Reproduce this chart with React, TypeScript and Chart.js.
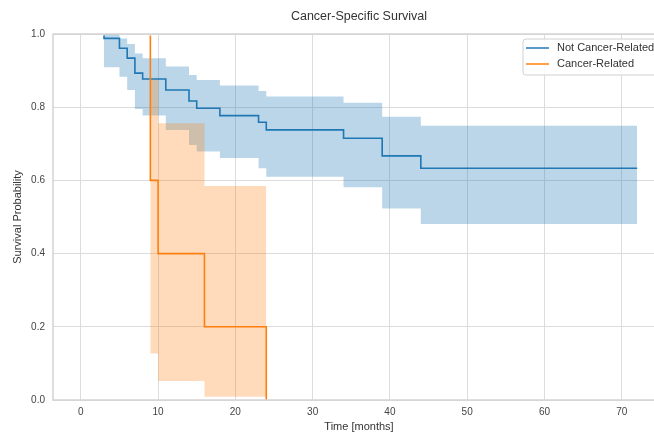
import React, { useEffect, useRef } from "react";
import { Chart, registerables } from "chart.js";

Chart.register(...registerables);

const chartTitle = "Cancer-Specific Survival";
const xAxisTitle = "Time [months]";
const yAxisTitle = "Survival Probability";
const seriesNames = ["Not Cancer-Related", "Cancer-Related"];

const blueTimes = [0, 3, 5, 6, 7, 8, 11, 14, 15, 18, 23, 24, 34, 39, 44, 72];
const blueSurvival = [1.0, 0.988, 0.961, 0.934, 0.893, 0.877, 0.847, 0.817, 0.797, 0.777, 0.759, 0.738, 0.715, 0.667, 0.633, 0.633];
const blueUpper = [1.0, 1.0, 0.988, 0.973, 0.947, 0.934, 0.911, 0.888, 0.874, 0.859, 0.844, 0.829, 0.812, 0.774, 0.749, 0.749];
const blueLower = [1.0, 0.909, 0.883, 0.847, 0.795, 0.777, 0.738, 0.697, 0.679, 0.661, 0.633, 0.61, 0.581, 0.523, 0.481, 0.481];

const orangeTimes = [0, 9, 10, 16, 24];
const orangeSurvival = [1.0, 0.6, 0.4, 0.2, 0.0];
const orangeUpper = [1.0, 0.875, 0.756, 0.585, 0.585];
const orangeLower = [1.0, 0.127, 0.052, 0.009, 0.009];

const xTicks = [0, 10, 20, 30, 40, 50, 60, 70];
const yTicks = [0, 0.2, 0.4, 0.6, 0.8, 1.0];

const BLUE = "#1f77b4";
const ORANGE = "#ff7f0e";
const FONT = "'Liberation Sans', Arial, sans-serif";

const pts = (xs: number[], ys: number[]) => xs.map((x, i) => ({ x, y: ys[i] }));

const overlayPlugin = {
  id: "overlay",
  afterDatasetsDraw(chart: any) {
    const { ctx, chartArea } = chart;
    const { left, right, top, bottom } = chartArea;
    ctx.save();
    ctx.strokeStyle = "#d4d4d4";
    ctx.lineWidth = 1.5;
    ctx.strokeRect(left, top, right - left, bottom - top);
    ctx.restore();
  },
  afterDraw(chart: any) {
    const { ctx, chartArea } = chart;
    const { left, right, top, bottom } = chartArea;
    const cx = (left + right) / 2;
    ctx.save();
    ctx.fillStyle = "#333";
    ctx.textAlign = "center";
    ctx.textBaseline = "middle";
    ctx.font = `12.5px ${FONT}`;
    ctx.fillText(chartTitle, cx, 17);
    ctx.font = `11px ${FONT}`;
    ctx.fillText(xAxisTitle, cx, bottom + 27);
    ctx.save();
    ctx.translate(18, (top + bottom) / 2);
    ctx.rotate(-Math.PI / 2);
    ctx.fillText(yAxisTitle, 0, 0);
    ctx.restore();
    const bx = 523, by = 39, bw = 160, bh = 36, r = 3;
    ctx.beginPath();
    ctx.moveTo(bx + r, by);
    ctx.lineTo(bx + bw - r, by);
    ctx.arcTo(bx + bw, by, bx + bw, by + r, r);
    ctx.lineTo(bx + bw, by + bh - r);
    ctx.arcTo(bx + bw, by + bh, bx + bw - r, by + bh, r);
    ctx.lineTo(bx + r, by + bh);
    ctx.arcTo(bx, by + bh, bx, by + bh - r, r);
    ctx.lineTo(bx, by + r);
    ctx.arcTo(bx, by, bx + r, by, r);
    ctx.closePath();
    ctx.fillStyle = "rgba(255,255,255,0.85)";
    ctx.fill();
    ctx.strokeStyle = "#d0d0d0";
    ctx.lineWidth = 1;
    ctx.stroke();
    const colors = [BLUE, ORANGE];
    seriesNames.forEach((name, i) => {
      const y = by + 9 + i * 16;
      ctx.strokeStyle = colors[i];
      ctx.lineWidth = 1.5;
      ctx.beginPath();
      ctx.moveTo(bx + 3, y);
      ctx.lineTo(bx + 26, y);
      ctx.stroke();
      ctx.fillStyle = "#333";
      ctx.textAlign = "left";
      ctx.textBaseline = "middle";
      ctx.font = `11px ${FONT}`;
      ctx.fillText(name, bx + 34, y);
    });
    ctx.restore();
  },
};

export default function App() {
  const ref = useRef<HTMLCanvasElement | null>(null);
  useEffect(() => {
    document.body.style.margin = "0";
    document.body.style.overflow = "hidden";
    if (!ref.current) return;
    const common = { pointRadius: 0, pointHoverRadius: 0, stepped: "before" as const };
    const lineClip = { left: 0, top: -1.5, right: 0, bottom: 0 };
    const chart = new Chart(ref.current, {
      type: "line",
      data: {
        datasets: [
          { ...common, data: pts(blueTimes, blueUpper), borderWidth: 0, borderColor: "rgba(0,0,0,0)", backgroundColor: "rgba(31,119,180,0.3)", fill: "+1", order: 4 },
          { ...common, data: pts(blueTimes, blueLower), borderWidth: 0, borderColor: "rgba(0,0,0,0)", fill: false, order: 4 },
          { ...common, data: pts(blueTimes, blueSurvival), borderWidth: 1.6, borderColor: BLUE, fill: false, order: 3, clip: lineClip },
          { ...common, data: pts(orangeTimes, orangeUpper), borderWidth: 0, borderColor: "rgba(0,0,0,0)", backgroundColor: "rgba(255,127,14,0.28)", fill: "+1", order: 2 },
          { ...common, data: pts(orangeTimes, orangeLower), borderWidth: 0, borderColor: "rgba(0,0,0,0)", fill: false, order: 2 },
          { ...common, data: pts(orangeTimes, orangeSurvival), borderWidth: 1.6, borderColor: ORANGE, fill: false, order: 1, clip: lineClip },
        ],
      } as any,
      options: {
        animation: false,
        responsive: false,
        events: [],
        layout: { padding: { left: 0, top: 34, right: 5, bottom: 0 } },
        plugins: { legend: { display: false }, title: { display: false }, tooltip: { enabled: false } },
        scales: {
          x: {
            type: "linear",
            min: -3.6,
            max: 75.6,
            afterBuildTicks: (s: any) => { s.ticks = xTicks.map((v) => ({ value: v })); },
            afterFit: (s: any) => { s.height = 33; },
            grid: { color: "#dcdcdc", lineWidth: 1, drawTicks: false },
            border: { display: false },
            ticks: { padding: 6, color: "#444", font: { family: FONT, size: 10 }, callback: (v: any) => String(v) },
          },
          y: {
            type: "linear",
            min: 0,
            max: 1,
            afterBuildTicks: (s: any) => { s.ticks = yTicks.map((v) => ({ value: v })); },
            afterFit: (s: any) => { s.width = 53; },
            grid: { color: "#dcdcdc", lineWidth: 1, drawTicks: false },
            border: { display: false },
            ticks: { padding: 8, color: "#444", font: { family: FONT, size: 10 }, callback: (v: any) => Number(v).toFixed(1) },
          },
        },
      } as any,
      plugins: [overlayPlugin],
    });
    return () => chart.destroy();
  }, []);
  return (
    <div style={{ position: "absolute", left: 0, top: 0, width: 670, height: 433 }}>
      <canvas ref={ref} width={670} height={433} style={{ display: "block" }} />
    </div>
  );
}
